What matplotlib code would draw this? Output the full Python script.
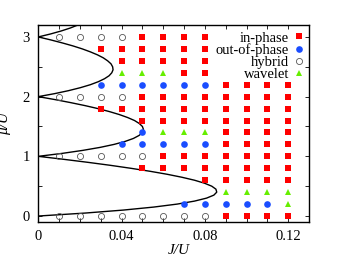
import matplotlib
matplotlib.use("Agg")
import matplotlib.pyplot as plt
from matplotlib.lines import Line2D
import numpy as np

# ---- data ----
# phase boundary (mean-field Mott lobes)
boundary_mu = [0.00, 0.05, 0.10, 0.15, 0.20, 0.25, 0.30, 0.35, 0.40, 0.45, 0.50,
               0.55, 0.60, 0.65, 0.70, 0.75, 0.80, 0.85, 0.90, 0.95, 1.00,
               1.05, 1.10, 1.15, 1.20, 1.25, 1.30, 1.35, 1.40, 1.45, 1.50,
               1.55, 1.60, 1.65, 1.70, 1.75, 1.80, 1.85, 1.90, 1.95, 2.00,
               2.05, 2.10, 2.15, 2.20, 2.25, 2.30, 2.35, 2.40, 2.45, 2.50,
               2.55, 2.60, 2.65, 2.70, 2.75, 2.80, 2.85, 2.90, 2.95, 3.00,
               3.05, 3.10, 3.15, 3.20, 3.25]
boundary_J = [0.0, 0.0226, 0.0409, 0.0554, 0.0667, 0.0750, 0.0808, 0.0843, 0.0857, 0.0853, 0.0833,
              0.0798, 0.0750, 0.0689, 0.0618, 0.0536, 0.0444, 0.0345, 0.0237, 0.0122, 0.0,
              0.0116, 0.0214, 0.0297, 0.0364, 0.0417, 0.0457, 0.0484, 0.0500, 0.0505, 0.0500,
              0.0485, 0.0462, 0.0429, 0.0389, 0.0341, 0.0286, 0.0224, 0.0155, 0.0081, 0.0,
              0.0078, 0.0145, 0.0202, 0.0250, 0.0288, 0.0318, 0.0340, 0.0353, 0.0359, 0.0357,
              0.0349, 0.0333, 0.0312, 0.0284, 0.0250, 0.0211, 0.0166, 0.0115, 0.0060, 0.0,
              0.0059, 0.0110, 0.0154, 0.0190, 0.0221]

in_phase_J = ([0.05, 0.06, 0.07, 0.08] +
              [0.03, 0.04, 0.05, 0.06, 0.07, 0.08] +
              [0.04, 0.05, 0.06, 0.07, 0.08] +
              [0.07, 0.08] +
              [0.09, 0.10, 0.11, 0.12] +
              [0.05, 0.06, 0.07, 0.08, 0.09, 0.10, 0.11, 0.12] +
              [0.03, 0.04, 0.05, 0.06, 0.07, 0.08, 0.09, 0.10, 0.11, 0.12] +
              [0.05, 0.06, 0.07, 0.08, 0.09, 0.10, 0.11, 0.12] +
              [0.09, 0.10, 0.11, 0.12] +
              [0.09, 0.10, 0.11, 0.12] +
              [0.06, 0.07, 0.08, 0.09, 0.10, 0.11, 0.12] +
              [0.05, 0.06, 0.07, 0.08, 0.09, 0.10, 0.11, 0.12] +
              [0.08, 0.09, 0.10, 0.11, 0.12] +
              [0.09, 0.10, 0.11, 0.12])
in_phase_mu = ([3.0] * 4 + [2.8] * 6 + [2.6] * 5 + [2.4] * 2 + [2.2] * 4 +
               [2.0] * 8 + [1.8] * 10 + [1.6] * 8 + [1.4] * 4 + [1.2] * 4 +
               [1.0] * 7 + [0.8] * 8 + [0.6] * 5 + [0.0] * 4)

out_phase_J = ([0.03, 0.04, 0.05, 0.06, 0.07, 0.08] +
               [0.05] +
               [0.04, 0.05, 0.06, 0.07, 0.08] +
               [0.07, 0.08, 0.09, 0.10, 0.11])
out_phase_mu = [2.2] * 6 + [1.4] * 1 + [1.2] * 5 + [0.2] * 5

hybrid_J = ([0.01, 0.02, 0.03, 0.04] +
            [0.01, 0.02, 0.03, 0.04] +
            [0.01, 0.02, 0.03, 0.04, 0.05] +
            [0.01, 0.02, 0.03, 0.04, 0.05, 0.06, 0.07, 0.08])
hybrid_mu = [3.0] * 4 + [2.0] * 4 + [1.0] * 5 + [0.0] * 8

wavelet_J = ([0.04, 0.05, 0.06] +
             [0.06, 0.07, 0.08] +
             [0.09, 0.10, 0.11, 0.12] +
             [0.12])
wavelet_mu = [2.4] * 3 + [1.4] * 3 + [0.4] * 4 + [0.2] * 1

labels = ["in-phase", "out-of-phase", "hybrid", "wavelet"]
x_ticks = [0.01 * i for i in range(0, 13)]
x_ticklabels = ["0", "", "", "", "0.04", "", "", "", "0.08", "", "", "", "0.12"]
y_ticks = [0.5 * i for i in range(0, 7)]
y_ticklabels = ["0", "", "1", "", "2", "", "3"]

# ---- style ----
FONT = "Liberation Serif"
plt.rcParams["font.family"] = [FONT, "DejaVu Serif"]
RED = "#ff0000"
BLUE = "#1a4dff"
GREEN = "#66ee00"
GRAY = "#555555"

fig = plt.figure(figsize=(3.42, 2.62), dpi=100)
ax = fig.add_axes([38.3 / 342, 40 / 262, (309 - 38.3) / 342, (222 - 25) / 262])

ax.plot(boundary_J, boundary_mu, color="black", lw=1.0, zorder=2)

ax.plot(in_phase_J, in_phase_mu, ls="none", marker="s", ms=4.8, mfc=RED, mec=RED, mew=0, zorder=3)
ax.plot(out_phase_J, out_phase_mu, ls="none", marker="o", ms=4.8, mfc=BLUE, mec=BLUE, mew=0, zorder=3)
ax.plot(hybrid_J, hybrid_mu, ls="none", marker="o", ms=4.4, mfc="none", mec=GRAY, mew=0.6, zorder=3)
ax.plot(wavelet_J, wavelet_mu, ls="none", marker="^", ms=4.4, mfc=GREEN, mec=GREEN, mew=0, zorder=3)

ax.set_xlim(0, 0.13)
ax.set_ylim(-0.1, 3.2)
ax.set_xticks(x_ticks)
ax.set_xticklabels(x_ticklabels)
ax.set_yticks(y_ticks)
ax.set_yticklabels(y_ticklabels)
ax.tick_params(direction="in", length=3, width=0.6, top=True, right=True,
               labelsize=10.5, pad=6)
for sp in ax.spines.values():
    sp.set_linewidth(1.0)

ax.set_xlabel("J/U", fontsize=11, style="italic")
ax.xaxis.set_label_coords(0.52, -0.112)
ax.set_ylabel("μ/U", fontsize=11, style="italic", labelpad=8)

handles = [
    Line2D([], [], ls="none", marker="s", ms=4.8, mfc=RED, mec=RED, mew=0),
    Line2D([], [], ls="none", marker="o", ms=4.8, mfc=BLUE, mec=BLUE, mew=0),
    Line2D([], [], ls="none", marker="o", ms=4.4, mfc="none", mec=GRAY, mew=0.6),
    Line2D([], [], ls="none", marker="^", ms=4.4, mfc=GREEN, mec=GREEN, mew=0),
]
ax.legend(handles, labels, loc="upper right", bbox_to_anchor=(0.985, 0.968),
          markerfirst=False, frameon=False, fontsize=10.5, handlelength=0.8,
          handletextpad=0.3, labelspacing=-0.08, borderpad=0, borderaxespad=0)

fig.savefig("out.png", dpi=100)
